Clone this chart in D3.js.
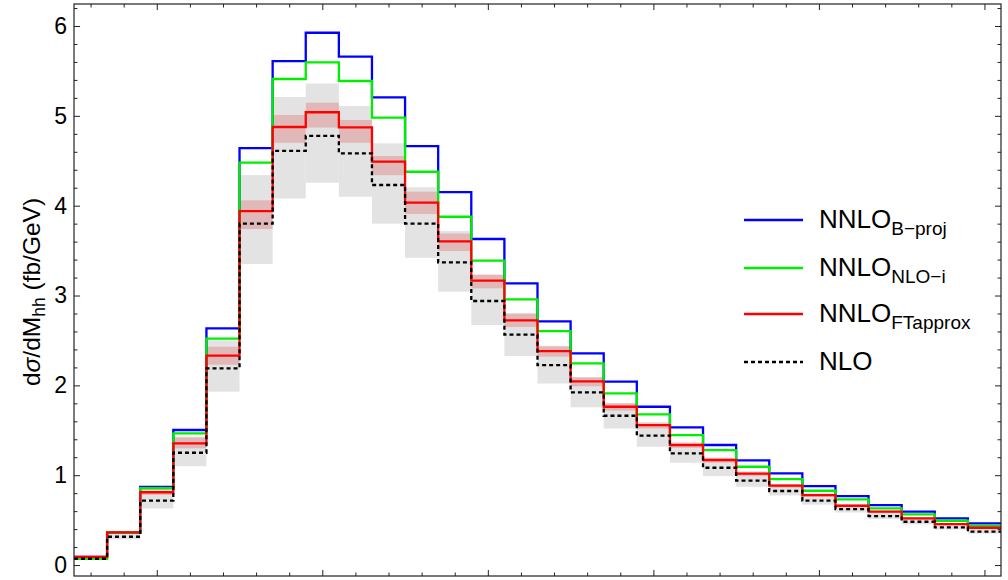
<!DOCTYPE html>
<html>
<head>
<meta charset="utf-8">
<script src="https://cdn.jsdelivr.net/npm/d3@7"></script>
<style>
  html, body { margin: 0; padding: 0; background: #fff; }
  svg { display: block; font-family: "Liberation Sans", Arial, Helvetica, sans-serif; }
</style>
</head>
<body>
<svg id="chart" width="1008" height="580"></svg>
<script>
// Invariant-mass bins (GeV): 28 bins of 20 GeV
const binEdges = [250, 270, 290, 310, 330, 350, 370, 390, 410, 430, 450, 470, 490, 510, 530,
                  550, 570, 590, 610, 630, 650, 670, 690, 710, 730, 750, 770, 790, 810];

// dσ/dM_hh (fb/GeV) per bin
const nnloBproj = [0.09, 0.36, 0.87, 1.503, 2.635, 4.64, 5.61, 5.925, 5.66, 5.206, 4.664, 4.152, 3.629, 3.136,
                   2.712, 2.357, 2.041, 1.762, 1.533, 1.336, 1.165, 1.021, 0.879, 0.768, 0.668, 0.594, 0.52, 0.464];
const nnloNLOi  = [0.07, 0.36, 0.855, 1.466, 2.52, 4.48, 5.41, 5.596, 5.388, 4.98, 4.378, 3.877, 3.388, 2.958,
                   2.603, 2.245, 1.911, 1.677, 1.447, 1.28, 1.094, 0.957, 0.827, 0.731, 0.631, 0.564, 0.493, 0.437];
const nnloFT    = [0.092, 0.364, 0.81, 1.355, 2.33, 3.94, 4.876, 5.04, 4.872, 4.49, 4.033, 3.603, 3.165, 2.724,
                   2.382, 2.045, 1.762, 1.558, 1.336, 1.169, 1.017, 0.883, 0.779, 0.66, 0.594, 0.52, 0.456, 0.415];
const nlo       = [0.07, 0.315, 0.716, 1.25, 2.19, 3.80, 4.61, 4.776, 4.583, 4.23, 3.80, 3.37, 2.939, 2.564,
                   2.226, 1.923, 1.662, 1.44, 1.243, 1.083, 0.939, 0.824, 0.716, 0.623, 0.545, 0.482, 0.42, 0.371];

// Scale-uncertainty bands
const nloLo = [0.06, 0.285, 0.63, 1.10, 1.93, 3.35, 4.08, 4.256, 4.10, 3.80, 3.42, 3.043, 2.672, 2.327,
               2.02, 1.756, 1.52, 1.317, 1.139, 0.99, 0.872, 0.775, 0.672, 0.585, 0.512, 0.453, 0.395, 0.35];
const nloHi = [0.08, 0.355, 0.82, 1.43, 2.50, 4.34, 5.21, 5.36, 5.11, 4.694, 4.205, 3.72, 3.228, 2.80,
               2.43, 2.09, 1.80, 1.56, 1.345, 1.17, 1.01, 0.89, 0.772, 0.672, 0.587, 0.519, 0.452, 0.399];
const ftLo  = [0.085, 0.35, 0.78, 1.30, 2.23, 3.74, 4.70, 4.87, 4.70, 4.34, 3.907, 3.495, 3.08, 2.65,
               2.32, 1.99, 1.72, 1.52, 1.305, 1.14, 0.99, 0.862, 0.76, 0.645, 0.58, 0.508, 0.446, 0.406];
const ftHi  = [0.098, 0.375, 0.845, 1.42, 2.43, 4.06, 5.01, 5.146, 4.954, 4.553, 4.156, 3.69, 3.235, 2.80,
               2.44, 2.09, 1.80, 1.59, 1.365, 1.195, 1.04, 0.902, 0.796, 0.675, 0.607, 0.531, 0.466, 0.424];

const yMajorTicks = [0, 1, 2, 3, 4, 5, 6];
const xMajorTicks = [300, 400, 500, 600, 700, 800];

const seriesNames = ["NNLO", "NNLO", "NNLO", "NLO"];
const seriesSubs  = ["B\u2212proj", "NLO\u2212i", "FTapprox", ""];

const svg = d3.select("#chart");
const W = 1008, H = 580;
const m = { left: 74, right: 1001, top: 4, bottom: 576 };

const x = d3.scaleLinear().domain([250, 810]).range([m.left, m.right]);
const y = d3.scaleLinear().domain([-0.122, 6.245]).range([m.bottom, m.top]);

svg.append("rect").attr("width", W).attr("height", H).attr("fill", "#fff");

const defs = svg.append("defs");
defs.append("clipPath").attr("id", "plotClip")
  .append("rect").attr("x", m.left).attr("y", m.top)
  .attr("width", m.right - m.left).attr("height", m.bottom - m.top);

const plot = svg.append("g").attr("clip-path", "url(#plotClip)");

// Band rectangles per bin
function drawBand(lo, hi, fill, opacity) {
  plot.append("g").selectAll("rect")
    .data(lo.map((v, i) => ({ i, lo: v, hi: hi[i] })))
    .join("rect")
    .attr("x", d => x(binEdges[d.i]))
    .attr("width", d => x(binEdges[d.i + 1]) - x(binEdges[d.i]))
    .attr("y", d => y(d.hi))
    .attr("height", d => y(d.lo) - y(d.hi))
    .attr("fill", fill)
    .attr("fill-opacity", opacity);
}
drawBand(nloLo, nloHi, "#e3e3e3", 1);
drawBand(ftLo, ftHi, "#d42020", 0.22);

// Step histogram lines
const step = d3.line()
  .x(d => x(d[0]))
  .y(d => y(d[1]))
  .curve(d3.curveStepAfter);

function stepPoints(vals) {
  const pts = vals.map((v, i) => [binEdges[i], v]);
  pts.push([binEdges[vals.length], vals[vals.length - 1]]);
  return pts;
}

const seriesStyle = [
  { vals: nnloBproj, color: "#0000ff", dash: null },
  { vals: nnloNLOi,  color: "#00ee00", dash: null },
  { vals: nnloFT,    color: "#ff0000", dash: null },
  { vals: nlo,       color: "#000000", dash: "4,3" }
];

seriesStyle.forEach(s => {
  plot.append("path")
    .datum(stepPoints(s.vals))
    .attr("d", step)
    .attr("fill", "none")
    .attr("stroke", s.color)
    .attr("stroke-width", 2.3)
    .attr("stroke-dasharray", s.dash);
});

// Frame and ticks (ticks point inward on all four sides)
const frameColor = "#222";
const yMinor = d3.range(0, 6.21, 0.2).filter(v => Math.abs(v - Math.round(v)) > 1e-6);
const xMinor = d3.range(260, 810, 20).filter(v => v % 100 !== 0);

function styleAxis(g) {
  g.select(".domain").remove();
  g.selectAll(".tick line").attr("stroke", frameColor).attr("stroke-width", 1);
  g.selectAll(".tick text").attr("fill", "#000").attr("font-size", 23)
    .attr("font-family", "'Liberation Sans', Arial, sans-serif");
}

svg.append("g").attr("transform", `translate(${m.left},0)`)
  .call(d3.axisLeft(y).tickValues(yMajorTicks).tickSize(-6).tickPadding(7).tickFormat(d3.format("d")))
  .call(styleAxis);
svg.append("g").attr("transform", `translate(${m.left},0)`)
  .call(d3.axisLeft(y).tickValues(yMinor).tickSize(-3.5).tickFormat(""))
  .call(styleAxis);
svg.append("g").attr("transform", `translate(${m.right},0)`)
  .call(d3.axisRight(y).tickValues(yMajorTicks).tickSize(-6).tickFormat(""))
  .call(styleAxis);
svg.append("g").attr("transform", `translate(${m.right},0)`)
  .call(d3.axisRight(y).tickValues(yMinor).tickSize(-3.5).tickFormat(""))
  .call(styleAxis);
svg.append("g").attr("transform", `translate(0,${m.bottom})`)
  .call(d3.axisBottom(x).tickValues(xMajorTicks).tickSize(-6).tickFormat(""))
  .call(styleAxis);
svg.append("g").attr("transform", `translate(0,${m.bottom})`)
  .call(d3.axisBottom(x).tickValues(xMinor).tickSize(-3.5).tickFormat(""))
  .call(styleAxis);
svg.append("g").attr("transform", `translate(0,${m.top})`)
  .call(d3.axisTop(x).tickValues(xMajorTicks).tickSize(-6).tickFormat(""))
  .call(styleAxis);
svg.append("g").attr("transform", `translate(0,${m.top})`)
  .call(d3.axisTop(x).tickValues(xMinor).tickSize(-3.5).tickFormat(""))
  .call(styleAxis);

svg.append("rect")
  .attr("x", m.left).attr("y", m.top)
  .attr("width", m.right - m.left).attr("height", m.bottom - m.top)
  .attr("fill", "none").attr("stroke", frameColor).attr("stroke-width", 1.2);

// Y-axis title
const yTitle = svg.append("text")
  .attr("transform", `translate(40,${(m.top + m.bottom) / 2 + 2}) rotate(-90)`)
  .attr("text-anchor", "middle")
  .attr("font-size", 24.5)
  .attr("fill", "#000");
yTitle.append("tspan").text("d");
yTitle.append("tspan").attr("font-style", "italic").text("\u03c3");
yTitle.append("tspan").text("/dM");
yTitle.append("tspan").attr("font-size", 17.5).attr("dy", 5).text("hh");
yTitle.append("tspan").attr("dy", -5).text(" (fb/GeV)");

// Legend
const legendRows = [220, 268, 314, 362];
const legend = svg.append("g");
seriesStyle.forEach((s, i) => {
  const ly = legendRows[i];
  legend.append("line")
    .attr("x1", 744).attr("x2", 803)
    .attr("y1", ly).attr("y2", ly)
    .attr("stroke", s.color)
    .attr("stroke-width", 2.4)
    .attr("stroke-dasharray", s.dash);
  const t = legend.append("text")
    .attr("x", 819).attr("y", ly + 8)
    .attr("font-size", 26)
    .attr("fill", "#000");
  t.append("tspan").text(seriesNames[i]);
  if (seriesSubs[i]) {
    t.append("tspan").attr("font-size", 19).attr("dy", 7).text(seriesSubs[i]);
  }
});
</script>
</body>
</html>
